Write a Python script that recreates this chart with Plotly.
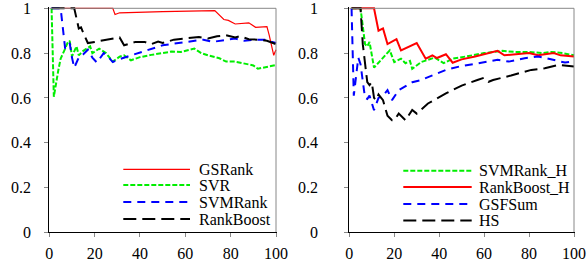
import plotly.graph_objects as go

W, H = 587, 269
FONT = "Liberation Serif, Times New Roman, serif"

# ---------------- data (left panel) ----------------
gsrank_x = [1, 28, 29, 31, 50, 73, 77, 79, 82, 88, 91, 96, 97, 99, 100]
gsrank_y = [1.0, 1.0, 0.972, 0.98, 0.985, 0.99, 0.95, 0.946, 0.93, 0.935, 0.915, 0.918, 0.88, 0.79, 0.815]

svr_x = [1, 2, 4, 5, 7, 8, 9, 10, 12, 13, 15, 18, 19, 22, 25, 27, 28, 31, 33, 36, 40, 45, 50, 54, 58, 64, 67, 70, 75, 78, 82, 86, 90, 92, 96, 100]
svr_y = [1.0, 0.605, 0.725, 0.775, 0.82, 0.845, 0.855, 0.785, 0.83, 0.79, 0.81, 0.83, 0.8, 0.82, 0.8, 0.777, 0.762, 0.784, 0.79, 0.768, 0.782, 0.792, 0.8, 0.807, 0.805, 0.82, 0.8, 0.79, 0.777, 0.762, 0.762, 0.755, 0.745, 0.73, 0.737, 0.747]

svmrank_x = [1, 5, 7, 9, 10, 11, 13, 15, 17, 19, 21, 24, 25, 28, 30, 33, 36, 40, 45, 50, 57, 63, 68, 72, 78, 82, 86, 90, 95, 100]
svmrank_y = [1.0, 1.0, 0.82, 0.845, 0.78, 0.735, 0.78, 0.795, 0.815, 0.78, 0.758, 0.8, 0.795, 0.76, 0.77, 0.78, 0.79, 0.8, 0.82, 0.835, 0.845, 0.855, 0.86, 0.85, 0.86, 0.865, 0.855, 0.86, 0.86, 0.845]

rankboost_x = [1, 11, 13, 14, 15, 17, 20, 28, 31, 33, 38, 42, 45, 48, 50, 55, 62, 66, 70, 74, 78, 82, 84, 88, 92, 96, 100]
rankboost_y = [1.0, 1.0, 0.91, 0.915, 0.89, 0.845, 0.85, 0.866, 0.87, 0.835, 0.85, 0.85, 0.84, 0.852, 0.845, 0.86, 0.866, 0.872, 0.865, 0.875, 0.88, 0.87, 0.875, 0.862, 0.86, 0.855, 0.84]

# ---------------- data (right panel) ----------------
svmrank_h_x = [1, 5, 7, 8, 9, 11, 18, 20, 23, 25, 27, 28, 32, 38, 42, 46, 52, 60, 68, 74, 80, 86, 90, 95, 100]
svmrank_h_y = [1.0, 1.0, 0.84, 0.83, 0.85, 0.735, 0.812, 0.76, 0.775, 0.755, 0.765, 0.73, 0.76, 0.78, 0.755, 0.775, 0.785, 0.8, 0.81, 0.805, 0.805, 0.8, 0.805, 0.8, 0.79]

rankboost_h_x = [1, 11, 13, 15, 17, 21, 23, 30, 34, 37, 39, 43, 46, 50, 56, 62, 66, 69, 74, 80, 84, 91, 94, 100]
rankboost_h_y = [1.0, 1.0, 0.9, 0.91, 0.84, 0.862, 0.812, 0.845, 0.775, 0.79, 0.778, 0.795, 0.757, 0.772, 0.785, 0.8, 0.81, 0.79, 0.795, 0.8, 0.79, 0.8, 0.79, 0.785]

gsfsum_x = [1, 2, 4, 5, 7, 8, 9, 11, 13, 15, 17, 19, 22, 28, 32, 37, 43, 49, 57, 66, 71, 78, 84, 90, 96, 100]
gsfsum_y = [1.0, 0.61, 0.78, 0.75, 0.6, 0.595, 0.61, 0.545, 0.6, 0.61, 0.635, 0.59, 0.635, 0.67, 0.68, 0.7, 0.725, 0.74, 0.755, 0.77, 0.762, 0.777, 0.785, 0.772, 0.758, 0.762]

hs_x = [1, 5, 6, 8, 9, 10, 11, 12, 13, 15, 17, 19, 20, 22, 25, 28, 30, 35, 43, 50, 57, 60, 62, 64, 72, 81, 87, 93, 100]
hs_y = [1.0, 1.0, 0.84, 0.67, 0.657, 0.67, 0.6, 0.59, 0.615, 0.59, 0.52, 0.5, 0.5, 0.53, 0.5, 0.546, 0.53, 0.575, 0.62, 0.655, 0.68, 0.69, 0.672, 0.68, 0.7, 0.725, 0.732, 0.747, 0.74]

x_ticks = [0, 20, 40, 60, 80, 100]
y_ticks = [0, 0.2, 0.4, 0.6, 0.8, 1.0]
y_tick_labels = ["0", "0.2", "0.4", "0.6", "0.8", "1"]

# ---------------- styles ----------------
RED, GREEN, BLUE, BLACK = "#ff0000", "#00ee00", "#0000ff", "#000000"
SHORT = "5px,2px"
MED = "8px,6px"
LONG = "13px,6px"

left_series = [
    ("GSRank", gsrank_x, gsrank_y, RED, 1.2, "solid"),
    ("SVR", svr_x, svr_y, GREEN, 2, SHORT),
    ("SVMRank", svmrank_x, svmrank_y, BLUE, 2, MED),
    ("RankBoost", rankboost_x, rankboost_y, BLACK, 2, LONG),
]
right_series = [
    ("SVMRank_H", svmrank_h_x, svmrank_h_y, GREEN, 2, SHORT),
    ("RankBoost_H", rankboost_h_x, rankboost_h_y, RED, 2, "solid"),
    ("GSFSum", gsfsum_x, gsfsum_y, BLUE, 2, MED),
    ("HS", hs_x, hs_y, BLACK, 2, LONG),
]

XMAX, YMAX = 100.6, 1.008
Y0PX, Y1PX = 232.3, 8.3
ppy = (Y0PX - Y1PX)


def xdom(x0px, x100px):
    ppu = (x100px - x0px) / 100
    return [x0px / W, (x100px + (XMAX - 100) * ppu) / W]


ydom = [1 - Y0PX / H, 1 - (Y1PX - (YMAX - 1) * ppy) / H]

fig = go.Figure()
for name, xs, ys, c, w, d in left_series:
    fig.add_trace(go.Scatter(x=xs, y=ys, mode="lines", name=name, xaxis="x", yaxis="y",
                             line=dict(color=c, width=w, dash=d), showlegend=False))
for name, xs, ys, c, w, d in right_series:
    fig.add_trace(go.Scatter(x=xs, y=ys, mode="lines", name=name, xaxis="x2", yaxis="y2",
                             line=dict(color=c, width=w, dash=d), showlegend=False))

axcommon = dict(showline=True, linecolor="black", linewidth=1, ticks="outside", ticklen=4,
                tickcolor="#888888", tickwidth=1, showgrid=False, zeroline=False,
                automargin=False, ticklabeloverflow="allow",
                tickfont=dict(family=FONT, size=16, color="black"))

fig.update_layout(
    template="none",
    width=W, height=H, margin=dict(l=0, r=0, t=0, b=0, autoexpand=False),
    paper_bgcolor="white", plot_bgcolor="white",
    font=dict(family=FONT, size=16, color="black"),
    xaxis=dict(domain=xdom(49.3, 276.0), range=[0, XMAX], tickvals=x_ticks, anchor="y",
               ticklabelstandoff=2, **axcommon),
    yaxis=dict(domain=ydom, range=[0, YMAX], tickvals=y_ticks, ticktext=y_tick_labels, anchor="x",
               ticklabelstandoff=10, **axcommon),
    xaxis2=dict(domain=xdom(349.3, 574.0), range=[0, XMAX], tickvals=x_ticks, anchor="y2",
                ticklabelstandoff=2, **axcommon),
    yaxis2=dict(domain=ydom, range=[0, YMAX], tickvals=y_ticks, ticktext=y_tick_labels, anchor="x2",
                ticklabelstandoff=23, **axcommon),
)

shapes = []
annotations = []
# gray top/right frame
for xr, yr in (("x", "y"), ("x2", "y2")):
    shapes.append(dict(type="line", xref=xr, yref=yr, x0=0, x1=100, y0=1, y1=1,
                       line=dict(color="#888888", width=1)))
    shapes.append(dict(type="line", xref=xr, yref=yr, x0=100, x1=100, y0=0, y1=1,
                       line=dict(color="#888888", width=1)))

# legends drawn as line samples + text
legend_rows_left = [169.3, 185.0, 202.0, 219.0]
legend_rows_right = [170.8, 187.0, 204.0, 220.5]


def add_legend(series, rows, lx0, lx1, tx):
    for (name, xs, ys, c, w, d), ry in zip(series, rows):
        py = 1 - ry / H
        shapes.append(dict(type="line", xref="paper", yref="paper", x0=lx0 / W, x1=lx1 / W,
                           y0=py, y1=py, line=dict(color=c, width=w, dash=d)))
        annotations.append(dict(x=tx / W, y=py, xref="paper", yref="paper", text=name,
                                showarrow=False, xanchor="left", yanchor="middle",
                                font=dict(family=FONT, size=16, color="black")))


add_legend(left_series, legend_rows_left, 123.3, 190.0, 197.0)
add_legend(right_series, legend_rows_right, 403.3, 471.7, 477.0)

fig.update_layout(shapes=shapes, annotations=annotations)
fig.write_html("out.html", config={"displayModeBar": False},
               post_script="document.body.style.margin='0';document.body.style.overflow='hidden';")
